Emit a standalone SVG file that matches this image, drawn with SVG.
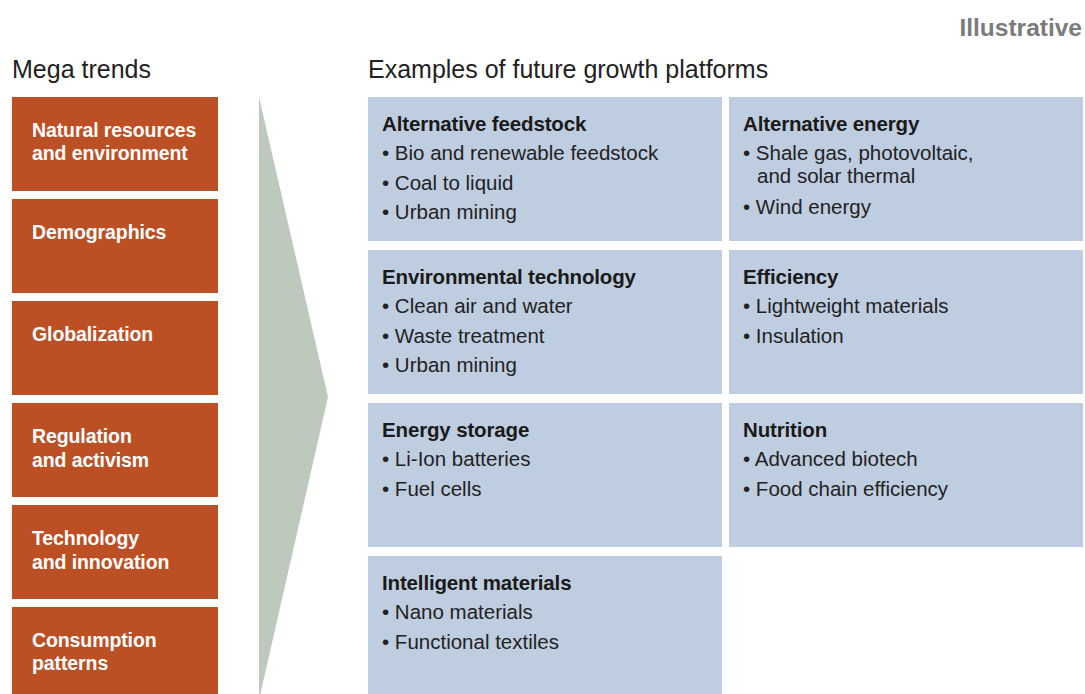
<svg xmlns="http://www.w3.org/2000/svg" width="1085" height="694" viewBox="0 0 1085 694">
<style>
.trend{fill:#bd4f24}
.plat{fill:#bfcde0}
.tt{font-family:"Liberation Sans",Arial,sans-serif;font-weight:bold;font-size:19.5px;fill:#ffffff;letter-spacing:-0.1px}
.hd{font-family:"Liberation Sans",Arial,sans-serif;font-size:25px;fill:#222222}
.pt{font-family:"Liberation Sans",Arial,sans-serif;font-weight:bold;font-size:20.5px;fill:#1a1a1a;letter-spacing:-0.15px}
.it{font-family:"Liberation Sans",Arial,sans-serif;font-size:20.5px;fill:#222222}
</style>
<rect width="1085" height="694" fill="#ffffff"/>
<text x="1082" y="36" text-anchor="end" style="font-family:'Liberation Sans',Arial,sans-serif;font-weight:bold;font-size:24.5px;fill:#7b7b7b">Illustrative</text>
<text class="hd" x="12" y="78">Mega trends</text>
<text class="hd" x="368" y="78">Examples of future growth platforms</text>

<g id="trend-natural"><rect class="trend" x="12" y="97" width="206" height="94"/><text class="tt" x="32" y="137">Natural resources</text><text class="tt" x="32" y="160">and environment</text></g>
<g id="trend-demographics"><rect class="trend" x="12" y="199" width="206" height="94"/><text class="tt" x="32" y="239">Demographics</text></g>
<g id="trend-globalization"><rect class="trend" x="12" y="301" width="206" height="94"/><text class="tt" x="32" y="341">Globalization</text></g>
<g id="trend-regulation"><rect class="trend" x="12" y="403" width="206" height="94"/><text class="tt" x="32" y="443">Regulation</text><text class="tt" x="32" y="467">and activism</text></g>
<g id="trend-technology"><rect class="trend" x="12" y="505" width="206" height="94"/><text class="tt" x="32" y="545">Technology</text><text class="tt" x="32" y="569">and innovation</text></g>
<g id="trend-consumption"><rect class="trend" x="12" y="607" width="206" height="94"/><text class="tt" x="32" y="647">Consumption</text><text class="tt" x="32" y="670">patterns</text></g>

<g id="connectors"><polygon points="259,97 328,397 259,700" fill="#bdc9bd"/></g>

<g id="alt-feedstock"><rect class="plat" x="368" y="97" width="354" height="144"/>
<text class="pt" x="382" y="131">Alternative feedstock</text>
<text class="it" x="382" y="160">• Bio and renewable feedstock</text>
<text class="it" x="382" y="190">• Coal to liquid</text>
<text class="it" x="382" y="219">• Urban mining</text></g>
<g id="alt-energy"><rect class="plat" x="729" y="97" width="354" height="144"/>
<text class="pt" x="743" y="131">Alternative energy</text>
<text class="it" x="743" y="160">• Shale gas, photovoltaic,</text>
<text class="it" x="757" y="183">and solar thermal</text>
<text class="it" x="743" y="214">• Wind energy</text></g>
<g id="env-tech"><rect class="plat" x="368" y="250" width="354" height="144"/>
<text class="pt" x="382" y="284">Environmental technology</text>
<text class="it" x="382" y="313">• Clean air and water</text>
<text class="it" x="382" y="343">• Waste treatment</text>
<text class="it" x="382" y="372">• Urban mining</text></g>
<g id="efficiency"><rect class="plat" x="729" y="250" width="354" height="144"/>
<text class="pt" x="743" y="284">Efficiency</text>
<text class="it" x="743" y="313">• Lightweight materials</text>
<text class="it" x="743" y="343">• Insulation</text></g>
<g id="energy-storage"><rect class="plat" x="368" y="403" width="354" height="144"/>
<text class="pt" x="382" y="437">Energy storage</text>
<text class="it" x="382" y="466">• Li-Ion batteries</text>
<text class="it" x="382" y="496">• Fuel cells</text></g>
<g id="nutrition"><rect class="plat" x="729" y="403" width="354" height="144"/>
<text class="pt" x="743" y="437">Nutrition</text>
<text class="it" x="743" y="466">• Advanced biotech</text>
<text class="it" x="743" y="496">• Food chain efficiency</text></g>
<g id="intelligent"><rect class="plat" x="368" y="556" width="354" height="150"/>
<text class="pt" x="382" y="590">Intelligent materials</text>
<text class="it" x="382" y="619">• Nano materials</text>
<text class="it" x="382" y="649">• Functional textiles</text></g>
</svg>
